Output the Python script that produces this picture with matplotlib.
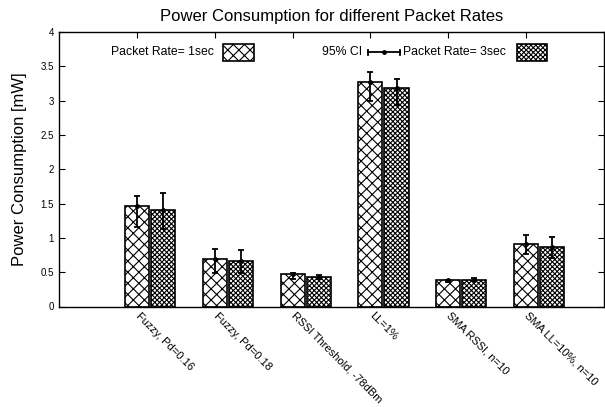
import matplotlib
matplotlib.use("Agg")
import matplotlib.pyplot as plt
from matplotlib.patches import Rectangle
import numpy as np

plt.rcParams['font.family'] = ['Liberation Sans', 'DejaVu Sans']
plt.rcParams['hatch.linewidth'] = 0.8

categories = ['Fuzzy, Pd=0.16', 'Fuzzy, Pd=0.18', 'RSSI Threshold, -78dBm',
              'LL=1%', 'SMA RSSI, n=10', 'SMA LL=10%, n=10']

rate1_mean = [1.46, 0.69, 0.47, 3.27, 0.38, 0.91]
rate1_low = [1.16, 0.49, 0.40, 2.99, 0.36, 0.77]
rate1_high = [1.61, 0.84, 0.49, 3.42, 0.39, 1.04]

rate3_mean = [1.41, 0.67, 0.43, 3.19, 0.39, 0.86]
rate3_low = [1.13, 0.49, 0.40, 2.94, 0.37, 0.70]
rate3_high = [1.66, 0.83, 0.46, 3.31, 0.41, 1.02]

fig = plt.figure(figsize=(6.05, 4.07), dpi=100)
ax = fig.add_axes([59/605, 1 - 306.5/407, 545/605, (306.5 - 32)/407])

x = np.arange(len(categories))
w = 0.31
off = 0.335

ax.bar(x, rate1_mean, w, facecolor='white', edgecolor='black', hatch='xxx', linewidth=1.2)
ax.bar(x + off, rate3_mean, w, facecolor='white', edgecolor='black', hatch='xxxxxxx', linewidth=1.2)

m1 = np.array(rate1_mean)
m3 = np.array(rate3_mean)
err1 = [m1 - np.array(rate1_low), np.array(rate1_high) - m1]
err3 = [m3 - np.array(rate3_low), np.array(rate3_high) - m3]
ax.errorbar(x, m1, yerr=err1, fmt='o', color='black', ms=2.5, elinewidth=1.3, capsize=2, capthick=1.3)
ax.errorbar(x + off, m3, yerr=err3, fmt='o', color='black', ms=2.5, elinewidth=1.3, capsize=2, capthick=1.3)

ax.set_xlim(-1, 6)
ax.set_ylim(0, 4)
ax.set_yticks(np.arange(0, 4.01, 0.5))
ax.set_yticklabels(['0', '0.5', '1', '1.5', '2', '2.5', '3', '3.5', '4'], fontsize=7)
ax.tick_params(axis='y', direction='in', length=4, right=True, width=0.8)

ax.set_xticks(x)
ax.set_xticklabels([])
ax.tick_params(axis='x', direction='in', length=4, top=True, bottom=False, width=0.8)
for xi, lab in zip(x, categories):
    ax.text(xi + 0.05, -0.015, lab, rotation=-45, rotation_mode='anchor',
            ha='left', va='top', fontsize=8, transform=ax.get_xaxis_transform())

for s in ax.spines.values():
    s.set_linewidth(1.0)

ax.set_title('Power Consumption for different Packet Rates', fontsize=12, pad=8)
ax.set_ylabel('Power Consumption [mW]', fontsize=12, labelpad=10)

# legend drawn by hand in pixel-like figure coordinates
def fx(px):
    return px / 605

def fy(py):
    return 1 - py / 407

fig.text(fx(214), fy(52), 'Packet Rate= 1sec', ha='right', va='center', fontsize=8.8)
fig.patches.append(Rectangle((fx(223), fy(61)), fx(31), 17/407, transform=fig.transFigure,
                             facecolor='white', edgecolor='black', hatch='xxx', linewidth=1.2))
fig.text(fx(362), fy(52), '95% CI', ha='right', va='center', fontsize=8.8)
fig.lines.append(plt.Line2D([fx(368), fx(400)], [fy(52), fy(52)], transform=fig.transFigure,
                            color='black', lw=1.3))
fig.lines.append(plt.Line2D([fx(384)], [fy(52)], transform=fig.transFigure,
                            color='black', marker='o', ms=2.5, lw=0))
for px in (368, 400):
    fig.lines.append(plt.Line2D([fx(px), fx(px)], [fy(49.5), fy(54.5)], transform=fig.transFigure,
                                color='black', lw=1.3))
fig.text(fx(403), fy(52), 'Packet Rate= 3sec', ha='left', va='center', fontsize=8.8)
fig.patches.append(Rectangle((fx(517), fy(61)), fx(30), 17/407, transform=fig.transFigure,
                             facecolor='white', edgecolor='black', hatch='xxxxxxx', linewidth=1.2))

fig.savefig('out.png', dpi=100)
